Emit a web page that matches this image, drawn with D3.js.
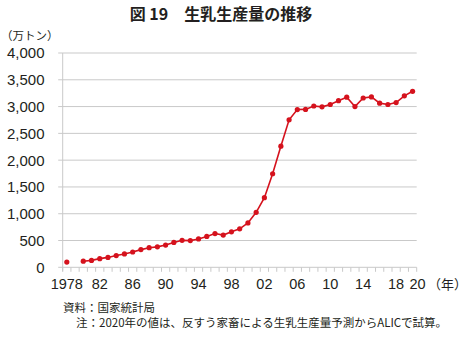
<!DOCTYPE html>
<html><head><meta charset="utf-8">
<script src="https://cdn.jsdelivr.net/npm/d3@7"></script>
<style>
html,body{margin:0;padding:0;background:#fff;}
svg{display:block;}
text{fill:#231f20;}
</style></head>
<body>
<svg id="c" width="467" height="341"></svg>
<script>
const years = d3.range(1978, 2021);
const production = [97.1, null, 114.1, 129.0, 161.8, 184.5, 218.6, 249.9, 285.3, 330.1,
  366.0, 381.3, 415.7, 464.6, 503.1, 498.6, 528.8, 576.4, 629.4, 601.1,
  662.9, 717.6, 827.4, 1025.5, 1299.8, 1746.3, 2260.6, 2753.4, 2944.6, 2947.1,
  3010.6, 2995.1, 3038.9, 3109.9, 3174.9, 3000.8, 3159.9, 3179.8, 3064.0, 3038.6,
  3074.6, 3201.2, 3285.0];
const yTicks = [0, 500, 1000, 1500, 2000, 2500, 3000, 3500, 4000];
const xLabelYears = [1978, 1982, 1986, 1990, 1994, 1998, 2002, 2006, 2010, 2014, 2018, 2020];
const xLabelText = ["1978", "82", "86", "90", "94", "98", "02", "06", "10", "14", "18", "20"];
const title = "図 19\u3000生乳生産量の推移";
const yUnit = "（万トン）";
const xUnit = "（年）";
const notes = ["資料：国家統計局", "注：2020年の値は、反すう家畜による生乳生産量予測からALICで試算。"];

const svg = d3.select("#c");
const L = 62.7, R = 416.7, T = 53, B = 267.3;
const numFont = "'Liberation Sans', Arial, sans-serif";
const jpFont = "'Noto Sans CJK JP', sans-serif";

const x = d3.scaleBand().domain(years).range([L, R]).padding(0);
const y = d3.scaleLinear().domain([0, 4000]).range([B, T]);
const cx = d => x(d) + x.bandwidth() / 2;

// gridlines
svg.append("g").selectAll("line").data(yTicks.filter(v => v > 0)).join("line")
  .attr("x1", L - 4.5).attr("x2", R).attr("y1", d => y(d)).attr("y2", d => y(d))
  .attr("stroke", "#c9c9c9").attr("stroke-width", 1);

// axis lines
svg.append("line").attr("x1", L).attr("x2", L).attr("y1", T).attr("y2", B + 4)
  .attr("stroke", "#c9c9c9").attr("stroke-width", 1);
svg.append("line").attr("x1", L - 4.5).attr("x2", R).attr("y1", B).attr("y2", B)
  .attr("stroke", "#c9c9c9").attr("stroke-width", 1);

// x ticks at band boundaries
const bounds = years.map(d => x(d)).concat([R]);
svg.append("g").selectAll("line").data(bounds).join("line")
  .attr("x1", d => d).attr("x2", d => d).attr("y1", B).attr("y2", B + 4.5)
  .attr("stroke", "#c9c9c9").attr("stroke-width", 1);

// y labels
svg.append("g").selectAll("text").data(yTicks).join("text")
  .attr("x", 44.5).attr("y", d => y(d)).attr("dy", "0.36em")
  .attr("text-anchor", "end").attr("font-family", numFont).attr("font-size", 15)
  .text(d => d3.format(",")(d));

// x labels
svg.append("g").selectAll("text").data(xLabelYears).join("text")
  .attr("x", d => cx(d) + (d === 2020 ? 5 : 0)).attr("y", 288.5)
  .attr("text-anchor", "middle").attr("font-family", numFont).attr("font-size", 14.5)
  .text((d, i) => xLabelText[i]);

// line
const pts = years.map((yr, i) => ({yr, v: production[i]}));
svg.append("path").datum(pts)
  .attr("d", d3.line().defined(d => d.v != null).x(d => cx(d.yr)).y(d => y(d.v)))
  .attr("fill", "none").attr("stroke", "#d5121d").attr("stroke-width", 1.6);
svg.append("g").selectAll("circle").data(pts.filter(d => d.v != null)).join("circle")
  .attr("cx", d => cx(d.yr)).attr("cy", d => y(d.v)).attr("r", 2.6)
  .attr("fill", "#d5121d");

// texts
svg.append("text").attr("x", 221).attr("y", 20).attr("text-anchor", "middle")
  .attr("font-family", jpFont).attr("font-size", 16).attr("font-weight", "bold").text(title);
svg.append("text").attr("x", 1).attr("y", 39.5)
  .attr("font-family", jpFont).attr("font-size", 11.5).text(yUnit);
svg.append("text").attr("x", 428).attr("y", 288.5)
  .attr("font-family", jpFont).attr("font-size", 13).text(xUnit);
svg.append("text").attr("x", 63).attr("y", 312)
  .attr("font-family", jpFont).attr("font-size", 11.5).text(notes[0]);
svg.append("text").attr("x", 76).attr("y", 327)
  .attr("font-family", jpFont).attr("font-size", 11.5).text(notes[1]);
</script>
</body></html>
